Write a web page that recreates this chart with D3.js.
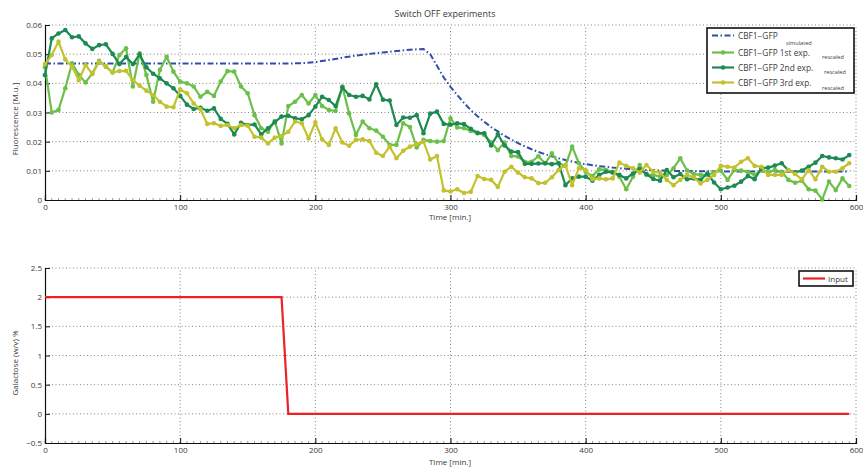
<!DOCTYPE html>
<html>
<head>
<meta charset="utf-8">
<script src="https://cdn.jsdelivr.net/npm/d3@7"></script>
<style>
  body { margin: 0; background: #fff; }
  svg text { font-family: "Open Sans", "Liberation Sans", sans-serif; fill: #3a3a3a; }
</style>
</head>
<body>
<svg id="chart" width="863" height="468"></svg>
<script>
// Sampling times of the three experiments [min]
const expTime = [0,5,10,15,20,25,30,35,40,45,50,55,60,65,70,75,80,85,90,95,
  100,105,110,115,120,125,130,135,140,145,150,155,160,165,170,175,180,185,190,195,
  200,205,210,215,220,225,230,235,240,245,250,255,260,265,270,275,280,285,290,295,
  300,305,310,315,320,325,330,335,340,345,350,355,360,365,370,375,380,385,390,395,
  400,405,410,415,420,425,430,435,440,445,450,455,460,465,470,475,480,485,490,495,
  500,505,510,515,520,525,530,535,540,545,550,555,560,565,570,575,580,585,590,595];

// CBF1-GFP 1st experiment (rescaled)
const exp1 = [0.0455,0.0300,0.0309,0.0383,0.0469,0.0429,0.0403,0.0434,0.0477,0.0457,
  0.0437,0.0497,0.0520,0.0389,0.0503,0.0429,0.0337,0.0446,0.0491,0.0440,
  0.0406,0.0400,0.0389,0.0354,0.0371,0.0357,0.0406,0.0442,0.0440,0.0389,
  0.0366,0.0291,0.0246,0.0234,0.0271,0.0194,0.0322,0.0337,0.0360,0.0331,
  0.0360,0.0322,0.0309,0.0305,0.0389,0.0297,0.0223,0.0269,0.0246,0.0238,
  0.0217,0.0189,0.0189,0.0263,0.0250,0.0180,0.0206,0.0202,0.0200,0.0202,
  0.0280,0.0249,0.0246,0.0237,0.0229,0.0223,0.0198,0.0171,0.0197,0.0151,
  0.0149,0.0131,0.0131,0.0150,0.0125,0.0160,0.0126,0.0117,0.0183,0.0126,
  0.0097,0.0082,0.0105,0.0103,0.0097,0.0080,0.0037,0.0080,0.0120,0.0086,
  0.0086,0.0080,0.0086,0.0109,0.0143,0.0101,0.0089,0.0086,0.0086,0.0094,
  0.0101,0.0069,0.0103,0.0101,0.0097,0.0086,0.0101,0.0094,0.0103,0.0097,
  0.0069,0.0059,0.0066,0.0037,0.0032,0.0002,0.0063,0.0034,0.0074,0.0048];

// CBF1-GFP 2nd experiment (rescaled)
const exp2 = [0.0428,0.0554,0.0571,0.0583,0.0558,0.0561,0.0537,0.0518,0.0531,0.0534,
  0.0501,0.0466,0.0490,0.0466,0.0499,0.0455,0.0433,0.0417,0.0400,0.0383,
  0.0357,0.0327,0.0312,0.0316,0.0306,0.0314,0.0278,0.0261,0.0225,0.0265,
  0.0257,0.0259,0.0225,0.0246,0.0267,0.0286,0.0289,0.0280,0.0277,0.0291,
  0.0320,0.0354,0.0343,0.0322,0.0386,0.0360,0.0354,0.0357,0.0345,0.0397,
  0.0344,0.0341,0.0257,0.0283,0.0282,0.0291,0.0229,0.0296,0.0303,0.0261,
  0.0258,0.0263,0.0260,0.0244,0.0230,0.0229,0.0187,0.0225,0.0187,0.0166,
  0.0164,0.0124,0.0124,0.0125,0.0126,0.0123,0.0126,0.0051,0.0074,0.0080,
  0.0080,0.0066,0.0086,0.0097,0.0094,0.0086,0.0074,0.0091,0.0105,0.0089,
  0.0072,0.0066,0.0103,0.0078,0.0089,0.0071,0.0074,0.0069,0.0091,0.0060,
  0.0037,0.0043,0.0049,0.0063,0.0082,0.0071,0.0109,0.0111,0.0118,0.0126,
  0.0101,0.0095,0.0101,0.0114,0.0128,0.0151,0.0146,0.0143,0.0139,0.0154];

// CBF1-GFP 3rd experiment (rescaled)
const exp3 = [0.0466,0.0497,0.0543,0.0482,0.0457,0.0411,0.0463,0.0432,0.0474,0.0459,
  0.0438,0.0442,0.0443,0.0411,0.0392,0.0375,0.0360,0.0337,0.0320,0.0318,
  0.0379,0.0366,0.0331,0.0311,0.0261,0.0263,0.0254,0.0257,0.0246,0.0257,
  0.0255,0.0217,0.0214,0.0194,0.0214,0.0219,0.0234,0.0269,0.0263,0.0211,
  0.0266,0.0208,0.0189,0.0246,0.0197,0.0186,0.0206,0.0208,0.0202,0.0162,
  0.0151,0.0183,0.0143,0.0169,0.0183,0.0192,0.0200,0.0139,0.0151,0.0033,
  0.0029,0.0037,0.0024,0.0028,0.0082,0.0072,0.0069,0.0045,0.0097,0.0114,
  0.0094,0.0078,0.0074,0.0058,0.0059,0.0078,0.0103,0.0120,0.0051,0.0109,
  0.0103,0.0071,0.0074,0.0071,0.0074,0.0128,0.0117,0.0109,0.0094,0.0120,
  0.0097,0.0094,0.0069,0.0051,0.0069,0.0086,0.0078,0.0057,0.0069,0.0086,
  0.0117,0.0114,0.0111,0.0131,0.0143,0.0117,0.0114,0.0086,0.0086,0.0086,
  0.0103,0.0089,0.0071,0.0103,0.0071,0.0114,0.0097,0.0097,0.0109,0.0126];

// Simulated CBF1-GFP response
const simTime = [0,180,190,200,210,220,230,240,250,260,270,280,285,290,295,300,305,310,315,320,
  325,330,335,340,345,350,355,360,365,370,375,380,385,390,395,400,410,420,430,440,450,460,480,500,550,595];
const simValue = [0.0468,0.0468,0.0469,0.0473,0.0480,0.0488,0.0495,0.0501,0.0506,0.0511,0.0515,0.0518,0.0500,0.0460,0.0420,0.0388,0.0360,0.0333,0.0308,0.0287,
  0.0268,0.0250,0.0235,0.0220,0.0207,0.0195,0.0184,0.0174,0.0165,0.0157,0.0150,0.0143,0.0137,0.0132,0.0127,0.0123,0.0116,0.0111,0.0107,0.0104,0.0102,0.0100,0.0099,0.0098,0.0098,0.0098];

// Galactose input
const inputTime = [0,175,180,595];
const inputValue = [2,2,0,0];

// Tick values
const xTicks = [0,100,200,300,400,500,600];
const yTopTicks = [0,0.01,0.02,0.03,0.04,0.05,0.06];
const yBotTicks = [-0.5,0,0.5,1,1.5,2,2.5];

const colors = { sim: "#2f4fa6", exp1: "#6cc04a", exp2: "#1c8a52", exp3: "#c3c22e", input: "#ec2227" };

// plain numeric labels with a typographic minus sign
const numLabel = d => (d < 0 ? "\u2212" : "") + String(Math.abs(d));

const svg = d3.select("#chart");

const x = d3.scaleLinear().domain([0, 600]).range([45, 856]);
const yTop = d3.scaleLinear().domain([0, 0.06]).range([200, 25]);
const yBot = d3.scaleLinear().domain([-0.5, 2.5]).range([443, 268]);

function drawFrame(y, yTicks, yDomain) {
  const g = svg.append("g");
  const [y0, y1] = y.range();
  // dotted grid
  g.selectAll(null).data(xTicks.filter(d => d > 0)).join("line")
    .attr("x1", d => x(d)).attr("x2", d => x(d))
    .attr("y1", y0).attr("y2", y1)
    .attr("stroke", "#666").attr("stroke-width", 0.8).attr("stroke-dasharray", "1,2.5");
  g.selectAll(null).data(yTicks.filter(d => d !== yDomain[0])).join("line")
    .attr("x1", x(0)).attr("x2", x(600))
    .attr("y1", d => y(d)).attr("y2", d => y(d))
    .attr("stroke", "#666").attr("stroke-width", 0.8).attr("stroke-dasharray", "1,2.5");

  // minor ticks along the time axis
  g.selectAll(null).data(d3.range(0, 601, 5)).join("line")
    .attr("x1", d => x(d)).attr("x2", d => x(d))
    .attr("y1", y0).attr("y2", y0 - 2)
    .attr("stroke", "#555").attr("stroke-width", 0.6);

  const xa = g.append("g").attr("transform", `translate(0,${y0})`)
    .call(d3.axisBottom(x).tickValues(xTicks).tickSize(-5).tickPadding(4).tickFormat(numLabel));
  const ya = g.append("g").attr("transform", `translate(${x(0)},0)`)
    .call(d3.axisLeft(y).tickValues(yTicks).tickSize(-5).tickPadding(3).tickFormat(numLabel));
  [xa, ya].forEach(a => {
    a.select(".domain").attr("stroke", "#111").attr("stroke-width", 1.2);
    a.selectAll(".tick line").attr("stroke", "#111").attr("stroke-width", 1);
    a.selectAll(".tick text").attr("font-size", 8).attr("fill", "#3a3a3a")
      .style("font-family", '"Open Sans","Liberation Sans",sans-serif');
  });
  return g;
}

// ---------- top panel ----------
drawFrame(yTop, yTopTicks, [0, 0.06]);

const simLine = d3.line().x((d, i) => x(simTime[i])).y(d => yTop(d));
svg.append("path").datum(simValue)
  .attr("d", simLine).attr("fill", "none")
  .attr("stroke", colors.sim).attr("stroke-width", 2)
  .attr("stroke-dasharray", "6,2.5,1.5,2.5");

const expLine = d3.line().x((d, i) => x(expTime[i])).y(d => yTop(d));
[["exp1", exp1], ["exp2", exp2], ["exp3", exp3]].forEach(([key, vals]) => {
  const g = svg.append("g");
  g.append("path").datum(vals).attr("d", expLine).attr("fill", "none")
    .attr("stroke", colors[key]).attr("stroke-width", 2.2).attr("stroke-linejoin", "round");
  g.selectAll("circle").data(vals).join("circle")
    .attr("cx", (d, i) => x(expTime[i])).attr("cy", d => yTop(d))
    .attr("r", 2.3).attr("fill", colors[key]);
});

svg.append("text").attr("x", 445).attr("y", 17).attr("text-anchor", "middle")
  .attr("font-size", 9).text("Switch OFF experiments");
svg.append("text").attr("x", 450).attr("y", 220).attr("text-anchor", "middle")
  .attr("font-size", 8).text("Time [min.]");
svg.append("text").attr("transform", "translate(18,119) rotate(-90)").attr("text-anchor", "middle")
  .attr("font-size", 8).text("Fluorescence [M.u.]");

// legend, top panel
const leg = svg.append("g");
leg.append("rect").attr("x", 707).attr("y", 28).attr("width", 147).attr("height", 65)
  .attr("fill", "#fff").attr("stroke", "#111").attr("stroke-width", 1.6);
const legRows = [
  { key: "sim", label: "CBF1\u2212GFP", sub: "simulated", y: 35.5, subX: 786, subDy: 9.5, marker: false },
  { key: "exp1", label: "CBF1\u2212GFP 1st exp.", sub: "rescaled", y: 52.5, subX: 822, subDy: 6.5, marker: true },
  { key: "exp2", label: "CBF1\u2212GFP 2nd exp.", sub: "rescaled", y: 67.5, subX: 824, subDy: 6.5, marker: true },
  { key: "exp3", label: "CBF1\u2212GFP 3rd exp.", sub: "rescaled", y: 82.5, subX: 822, subDy: 7.5, marker: true }
];
legRows.forEach(r => {
  const ln = leg.append("line").attr("x1", 712).attr("x2", 734).attr("y1", r.y).attr("y2", r.y)
    .attr("stroke", colors[r.key]).attr("stroke-width", r.marker ? 2.2 : 2);
  if (!r.marker) ln.attr("stroke-dasharray", "6,2.5,1.5,2.5");
  else leg.append("circle").attr("cx", 723).attr("cy", r.y).attr("r", 2.3).attr("fill", colors[r.key]);
  leg.append("text").attr("x", 738).attr("y", r.y + 3).attr("font-size", 8.3).attr("fill", "#111").text(r.label);
  leg.append("text").attr("x", r.subX).attr("y", r.y + r.subDy).attr("font-size", 5.6).attr("fill", "#111").text(r.sub);
});

// ---------- bottom panel ----------
drawFrame(yBot, yBotTicks, [-0.5, 2.5]);

const inLine = d3.line().x((d, i) => x(inputTime[i])).y(d => yBot(d));
svg.append("path").datum(inputValue).attr("d", inLine).attr("fill", "none")
  .attr("stroke", colors.input).attr("stroke-width", 2.2);

svg.append("text").attr("x", 450).attr("y", 465).attr("text-anchor", "middle")
  .attr("font-size", 8).text("Time [min.]");
svg.append("text").attr("transform", "translate(18,363) rotate(-90)").attr("text-anchor", "middle")
  .attr("font-size", 8).text("Galactose (w/v) %");

const leg2 = svg.append("g");
leg2.append("rect").attr("x", 799).attr("y", 271).attr("width", 54).attr("height", 15)
  .attr("fill", "#fff").attr("stroke", "#111").attr("stroke-width", 1.6);
leg2.append("line").attr("x1", 803).attr("x2", 825).attr("y1", 278.5).attr("y2", 278.5)
  .attr("stroke", colors.input).attr("stroke-width", 2.2);
leg2.append("text").attr("x", 828).attr("y", 281.5).attr("font-size", 8).attr("fill", "#111").text("Input");
</script>
</body>
</html>
